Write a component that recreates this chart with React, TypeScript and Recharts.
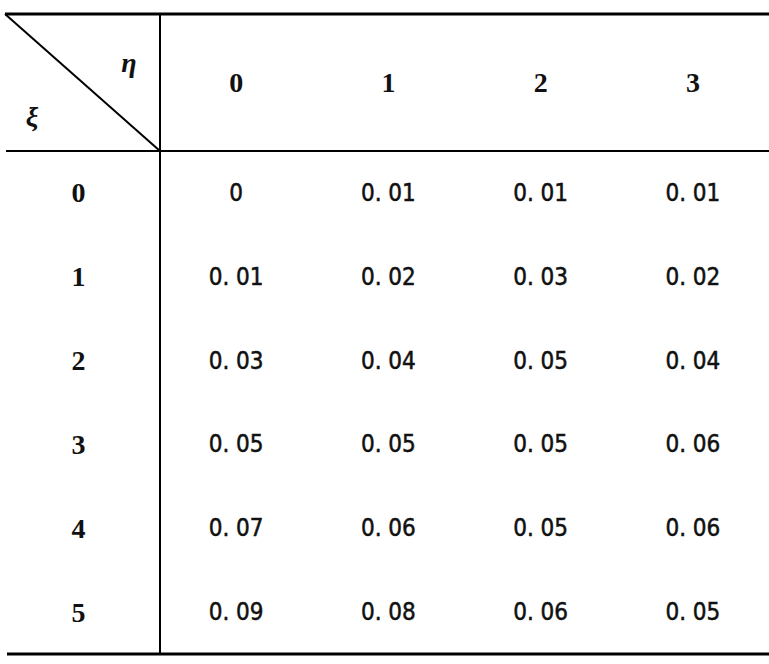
import React from 'react';
import { ScatterChart, Scatter, XAxis, YAxis, Customized } from 'recharts';

// Column headers (η) and row headers (ξ)
const etaValues = ['0', '1', '2', '3'];
const xiValues = ['0', '1', '2', '3', '4', '5'];

// Joint probabilities P(ξ = row, η = col)
const rowXi0 = [0, 0.01, 0.01, 0.01];
const rowXi1 = [0.01, 0.02, 0.03, 0.02];
const rowXi2 = [0.03, 0.04, 0.05, 0.04];
const rowXi3 = [0.05, 0.05, 0.05, 0.06];
const rowXi4 = [0.07, 0.06, 0.05, 0.06];
const rowXi5 = [0.09, 0.08, 0.06, 0.05];
const rowsByXi = [rowXi0, rowXi1, rowXi2, rowXi3, rowXi4, rowXi5];

const cells = xiValues.flatMap((xi, r) =>
  etaValues.map((eta, c) => ({ xi, eta, p: rowsByXi[r][c] }))
);

const W = 769;
const H = 664;
const M = { top: 14, right: 0, bottom: 10, left: 5 };
const X_AXIS_H = 137;
const Y_AXIS_W = 155;

const NUM_FONT = "'DejaVu Sans Condensed', 'DejaVu Sans', sans-serif";
const HEAD_FONT = "'Liberation Serif', 'DejaVu Serif', serif";
const GREEK_FONT = "'Liberation Serif', 'DejaVu Serif', serif";
const NUM_SIZE = 24;
const HEAD_SIZE = 28;

const fmt = (p: number) => (p === 0 ? '0' : p.toFixed(2).replace('.', '. '));

const TopTick = (props: any) => {
  const { x, payload } = props;
  return (
    <text
      x={x}
      y={M.top + X_AXIS_H / 2}
      textAnchor="middle"
      dominantBaseline="central"
      fontFamily={HEAD_FONT}
      fontWeight="bold"
      fontSize={HEAD_SIZE}
      fill="#111"
    >
      {payload.value}
    </text>
  );
};

const LeftTick = (props: any) => {
  const { y, payload } = props;
  return (
    <text
      x={M.left + Y_AXIS_W / 2 - 4}
      y={y}
      textAnchor="middle"
      dominantBaseline="central"
      fontFamily={HEAD_FONT}
      fontWeight="bold"
      fontSize={HEAD_SIZE}
      fill="#111"
    >
      {payload.value}
    </text>
  );
};

const CellText = (props: any) => {
  const { cx, cy, payload } = props;
  if (cx == null || cy == null) return null;
  return (
    <text
      x={cx}
      y={cy}
      textAnchor="middle"
      dominantBaseline="central"
      fontFamily={NUM_FONT}
      fontStretch="condensed"
      fontSize={NUM_SIZE}
      fill="#111"
      stroke="#111"
      strokeWidth={0.5}
    >
      {fmt(payload.p)}
    </text>
  );
};

const Frame = () => {
  const left = M.left;
  const top = M.top;
  const right = W - M.right;
  const plotX = M.left + Y_AXIS_W;
  const plotY = M.top + X_AXIS_H;
  const bottom = H - M.bottom;
  return (
    <g>
      <line x1={left} y1={top} x2={right} y2={top} stroke="#000" strokeWidth={3} />
      <line x1={left + 1} y1={plotY} x2={right} y2={plotY} stroke="#000" strokeWidth={2} />
      <line x1={left + 2} y1={bottom} x2={right} y2={bottom} stroke="#000" strokeWidth={3} />
      <line x1={plotX} y1={top} x2={plotX} y2={bottom} stroke="#000" strokeWidth={2} />
      <line x1={left} y1={top} x2={plotX} y2={plotY} stroke="#000" strokeWidth={2} />
      <text
        x={plotX - 31}
        y={plotY - 89}
        textAnchor="middle"
        dominantBaseline="central"
        fontFamily={GREEK_FONT}
        fontStyle="italic"
        fontWeight="bold"
        fontSize={28}
        fill="#111"
      >
        η
      </text>
      <text
        x={left + 27}
        y={plotY - 35}
        textAnchor="middle"
        dominantBaseline="central"
        fontFamily={GREEK_FONT}
        fontStyle="italic"
        fontWeight="bold"
        fontSize={28}
        fill="#111"
      >
        ξ
      </text>
    </g>
  );
};

export default function App() {
  return (
    <div style={{ position: 'absolute', left: 0, top: 0, width: W, height: H, background: '#fff' }}>
      <ScatterChart width={W} height={H} margin={M}>
        <XAxis
          type="category"
          dataKey="eta"
          orientation="top"
          height={X_AXIS_H}
          allowDuplicatedCategory={false}
          axisLine={false}
          tickLine={false}
          tick={<TopTick />}
          interval={0}
        />
        <YAxis
          type="category"
          dataKey="xi"
          width={Y_AXIS_W}
          reversed
          allowDuplicatedCategory={false}
          axisLine={false}
          tickLine={false}
          tick={<LeftTick />}
          interval={0}
        />
        <Scatter data={cells} shape={<CellText />} isAnimationActive={false} />
        <Customized component={Frame} />
      </ScatterChart>
    </div>
  );
}
